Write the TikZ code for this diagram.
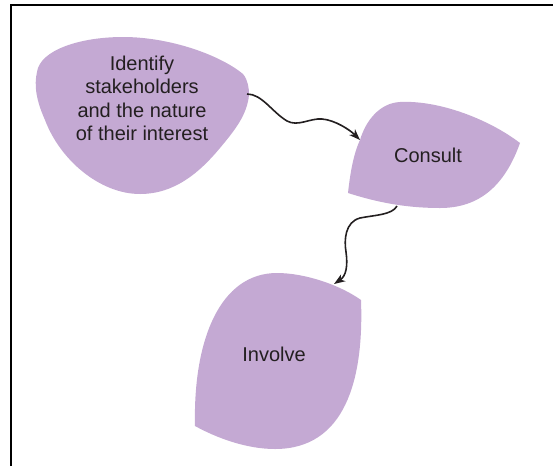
\documentclass[tikz,border=0pt]{standalone}
\usepackage{fontspec}
\setmainfont{Liberation Sans}
\usetikzlibrary{arrows.meta}
\definecolor{blobfill}{HTML}{C4A9D3}
\definecolor{inktext}{HTML}{231F20}
\tikzset{
  blob/.style={fill=blobfill, draw=none},
  label/.style={text=inktext, font=\fontsize{20}{23.4}\selectfont, align=center, inner sep=0pt},
  flow/.style={draw=inktext, line width=1.6pt, -{Stealth[length=11pt,width=8pt,inset=3pt]}},
  frame/.style={line width=2pt, draw=black}
}
\begin{document}
\begin{tikzpicture}[x=1pt,y=-1pt]
  \useasboundingbox (0,0) rectangle (553,466);
  % frame lines (top and left)
  \draw[frame] (11,466) -- (11,5) -- (553,5);

  % first blob
  \path[blob] (243,74) .. controls (248,80) and (249,88) .. (249,95)
    .. controls (247,115) and (235,130) .. (220,148)
    .. controls (200,172) and (175,194) .. (140,194)
    .. controls (100,194) and (60,160) .. (45,120)
    .. controls (36,100) and (34,85) .. (37,72)
    .. controls (40,50) and (80,37) .. (123,37)
    .. controls (170,37) and (220,55) .. (243,74) -- cycle;

  % second blob
  \path[blob] (348,193) .. controls (350,175) and (353,155) .. (360,140)
    .. controls (366,120) and (380,103) .. (400,102)
    .. controls (440,100) and (490,120) .. (520,143)
    .. controls (505,185) and (480,208) .. (440,208)
    .. controls (400,208) and (370,200) .. (348,193) -- cycle;

  % third blob
  \path[blob] (361,300) .. controls (364,380) and (345,449) .. (275,449)
    .. controls (245,449) and (215,437) .. (195,426)
    .. controls (193,340) and (220,273) .. (277,273)
    .. controls (305,273) and (340,285) .. (361,300) -- cycle;

  % labels
  \node[label] (identify) at (142,98.5) {Identify\\stakeholders\\and the nature\\of their interest};
  \node[label, anchor=base] (consult) at (428,162.7) {Consult};
  \node[label, anchor=base] (involve) at (274,361) {Involve};

  % connector end points on the blob outlines
  \coordinate (identifyout) at (247,94);
  \coordinate (consultin) at (360,140);
  \coordinate (consultout) at (397,206);
  \coordinate (involvein) at (334,284);

  % connectors
  \draw[flow] (identifyout) .. controls (262,94) and (272,112) .. (287,121)
    .. controls (298,127) and (310,118) .. (322,119)
    .. controls (335,120) and (350,130) .. (consultin);
  \draw[flow] (consultout) .. controls (392,215) and (375,215) .. (360,218)
    .. controls (345,222) and (344,240) .. (346,252)
    .. controls (348,266) and (346,276) .. (involvein);
\end{tikzpicture}
\end{document}
